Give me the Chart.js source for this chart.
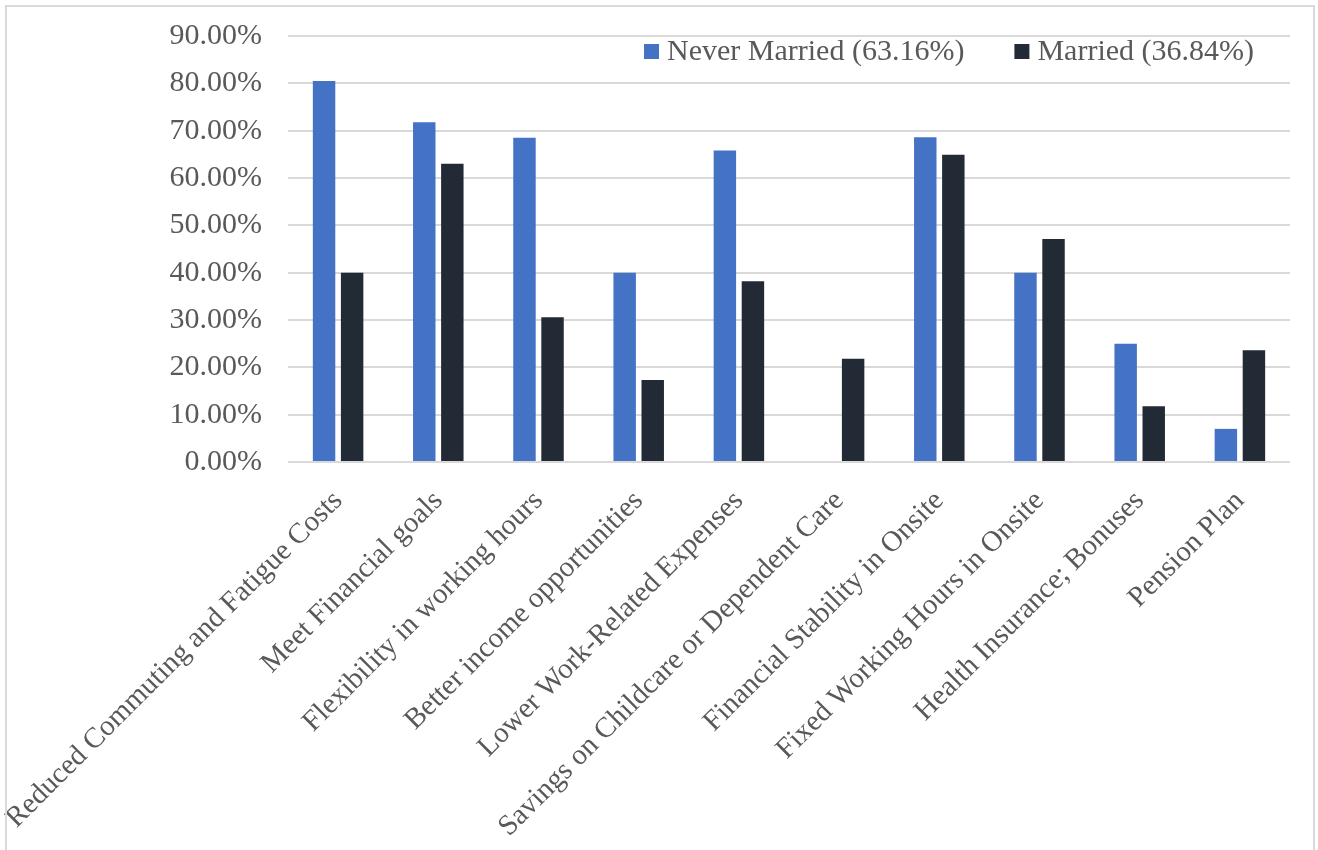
<!DOCTYPE html>
<html>
<head>
<meta charset="utf-8">
<script src="https://cdn.jsdelivr.net/npm/chart.js@4/dist/chart.umd.min.js"></script>
<style>
  body { margin: 0; background: #fff; }
  #wrap { position: relative; width: 1318px; height: 850px; overflow: hidden; }
  #frame {
    position: absolute; left: 5px; top: 5px; width: 1306px; height: 900px;
    border: 2px solid #d9d9d9; pointer-events: none;
  }
  canvas { position: absolute; left: 0; top: 0; }
</style>
</head>
<body>
<div id="wrap">
  <canvas id="reasons" width="1318" height="850"></canvas>
  <div id="frame"></div>
</div>
<script>
const categories = [
  'Reduced Commuting and Fatigue Costs',
  'Meet Financial goals',
  'Flexibility in working hours',
  'Better income opportunities',
  'Lower Work-Related Expenses',
  'Savings on Childcare or Dependent Care',
  'Financial Stability in Onsite',
  'Fixed Working Hours in Onsite',
  'Health Insurance; Bonuses',
  'Pension Plan'
];
const neverMarried = [80.5, 71.8, 68.5, 40.0, 65.8, 0, 68.6, 40.0, 25.0, 7.0];
const married = [40.0, 63.0, 30.6, 17.3, 38.2, 21.8, 64.9, 47.1, 11.8, 23.6];
const seriesNames = ['Never Married (63.16%)', 'Married (36.84%)'];
const yTicks = [0, 10, 20, 30, 40, 50, 60, 70, 80, 90];

const FONT = '"Liberation Serif", "Times New Roman", serif';
const TEXT = '#595959';

// legend drawn inside the plot, right-aligned under the top gridline
const insideLegend = {
  id: 'insideLegend',
  afterDraw(chart) {
    const { ctx, chartArea } = chart;
    ctx.save();
    ctx.font = '30px ' + FONT;
    ctx.textBaseline = 'middle';
    let x = chartArea.right - 36;
    const y = chartArea.top + 16;
    const sets = chart.data.datasets;
    for (let i = sets.length - 1; i >= 0; i--) {
      const w = ctx.measureText(sets[i].label).width;
      const tx = x - w;
      ctx.fillStyle = TEXT;
      ctx.fillText(sets[i].label, tx, y);
      ctx.fillStyle = sets[i].backgroundColor;
      ctx.fillRect(tx - 23, y - 8, 15, 15);
      x = tx - 23 - 50;
    }
    ctx.restore();
  }
};

new Chart(document.getElementById('reasons'), {
  type: 'bar',
  data: {
    labels: categories,
    datasets: [
      { label: seriesNames[0], data: neverMarried, backgroundColor: '#4472C4' },
      { label: seriesNames[1], data: married, backgroundColor: '#222A35' }
    ]
  },
  options: {
    responsive: false,
    animation: false,
    layout: { padding: { left: 0, top: 36, right: 28, bottom: 0 } },
    datasets: {
      bar: { categoryPercentage: 0.56, barPercentage: 0.8 }
    },
    plugins: {
      legend: { display: false },
      tooltip: { enabled: false }
    },
    scales: {
      x: {
        grid: { display: false },
        border: { display: false },
        ticks: {
          minRotation: 45,
          maxRotation: 45,
          autoSkip: false,
          padding: 14,
          color: TEXT,
          font: { family: FONT, size: 29 }
        },
        afterFit: scale => {
          scale.height = 388;
          scale.paddingLeft = 0;
          scale.paddingRight = 0;
        }
      },
      y: {
        min: 0,
        max: 90,
        afterBuildTicks: scale => {
          scale.ticks = yTicks.map(v => ({ value: v }));
        },
        grid: { color: '#d9d9d9', lineWidth: 2, drawTicks: false },
        border: { display: false },
        ticks: {
          padding: 26,
          color: TEXT,
          font: { family: FONT, size: 30 },
          callback: v => v.toFixed(2) + '%'
        },
        afterFit: scale => {
          scale.width = 288;
          scale.paddingTop = 0;
          scale.paddingBottom = 0;
        }
      }
    }
  },
  plugins: [insideLegend]
});
</script>
</body>
</html>
